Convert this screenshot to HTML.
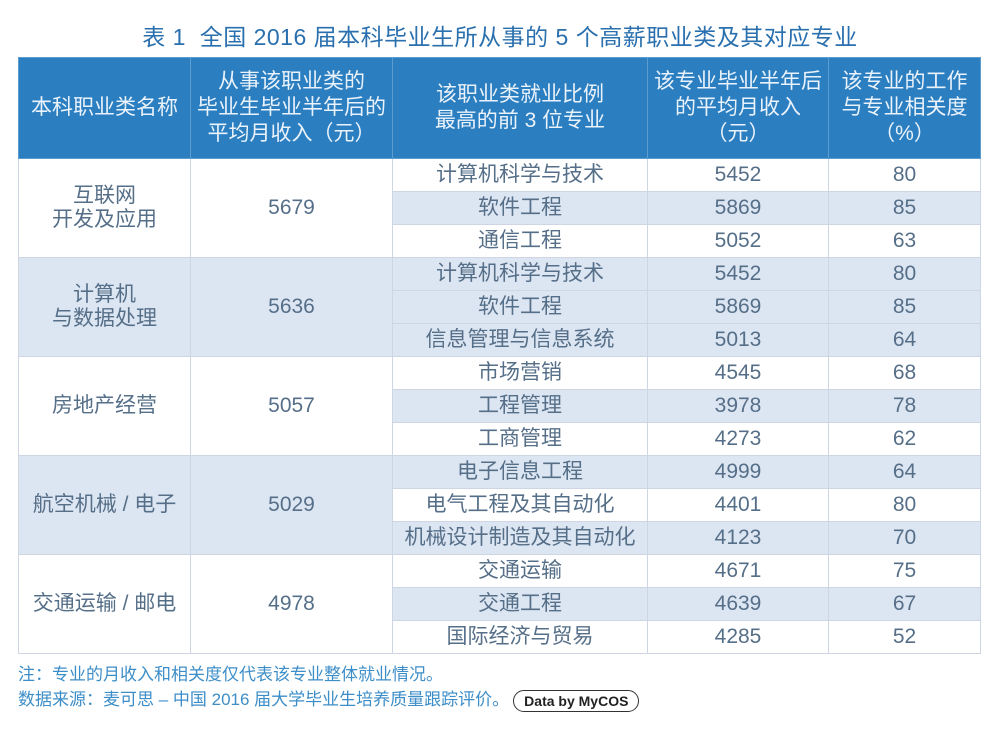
<!DOCTYPE html>
<html><head><meta charset="utf-8"><style>
body{margin:0;width:1000px;height:730px;background:#fff;font-family:"Liberation Sans","Noto Sans CJK SC",sans-serif;position:relative;overflow:hidden}
.title{position:absolute;top:18px;left:0;width:1000px;text-align:center;font-size:23px;color:#2a6fae;letter-spacing:0.5px}
table{position:absolute;left:18px;top:57px;border-collapse:collapse;table-layout:fixed;width:962px}
td,th{border:1px solid #cdd6e2;text-align:center;color:#566f88;font-size:21px;font-weight:normal;padding:0;line-height:24px}
th{background:#2b7fc0;color:#eaf2fb;height:100px;border-color:#5d9ccf;font-size:21px;line-height:26px}
tr.r td{height:32px}
.s{background:#dce5f2}
.note{position:absolute;left:18px;font-size:17px;color:#3d8ec8}
.badge{display:inline-block;border:1.5px solid #333;border-radius:12px;padding:1px 10px;font-size:14px;font-weight:bold;color:#222;vertical-align:middle;margin-left:4px;line-height:18px}
</style></head><body>
<div class="title">表 1&nbsp; 全国 2016 届本科毕业生所从事的 5 个高薪职业类及其对应专业</div>
<table>
<colgroup><col style="width:172px"><col style="width:202px"><col style="width:255px"><col style="width:181px"><col style="width:152px"></colgroup>
<tr><th>本科职业类名称</th><th>从事该职业类的<br>毕业生毕业半年后的<br>平均月收入（元）</th><th>该职业类就业比例<br>最高的前 3 位专业</th><th>该专业毕业半年后<br>的平均月收入<br>（元）</th><th>该专业的工作<br>与专业相关度<br>（%）</th></tr>
<tr class="r"><td rowspan="3">互联网<br>开发及应用</td><td rowspan="3">5679</td><td>计算机科学与技术</td><td>5452</td><td>80</td></tr>
<tr class="r s"><td>软件工程</td><td>5869</td><td>85</td></tr>
<tr class="r"><td>通信工程</td><td>5052</td><td>63</td></tr>
<tr class="r s"><td rowspan="3">计算机<br>与数据处理</td><td rowspan="3">5636</td><td>计算机科学与技术</td><td>5452</td><td>80</td></tr>
<tr class="r s"><td>软件工程</td><td>5869</td><td>85</td></tr>
<tr class="r s"><td>信息管理与信息系统</td><td>5013</td><td>64</td></tr>
<tr class="r"><td rowspan="3">房地产经营</td><td rowspan="3">5057</td><td>市场营销</td><td>4545</td><td>68</td></tr>
<tr class="r s"><td>工程管理</td><td>3978</td><td>78</td></tr>
<tr class="r"><td>工商管理</td><td>4273</td><td>62</td></tr>
<tr class="r s"><td rowspan="3" class="s">航空机械 / 电子</td><td rowspan="3" class="s">5029</td><td>电子信息工程</td><td>4999</td><td>64</td></tr>
<tr class="r"><td>电气工程及其自动化</td><td>4401</td><td>80</td></tr>
<tr class="r s"><td>机械设计制造及其自动化</td><td>4123</td><td>70</td></tr>
<tr class="r"><td rowspan="3">交通运输 / 邮电</td><td rowspan="3">4978</td><td>交通运输</td><td>4671</td><td>75</td></tr>
<tr class="r s"><td style="background:#dce5f2">交通工程</td><td>4639</td><td>67</td></tr>
<tr class="r"><td>国际经济与贸易</td><td>4285</td><td>52</td></tr>
</table>
<div class="note" style="top:660px">注：专业的月收入和相关度仅代表该专业整体就业情况。</div>
<div class="note" style="top:685px">数据来源：麦可思 – 中国 2016 届大学毕业生培养质量跟踪评价。<span class="badge">Data by MyCOS</span></div>
</body></html>
